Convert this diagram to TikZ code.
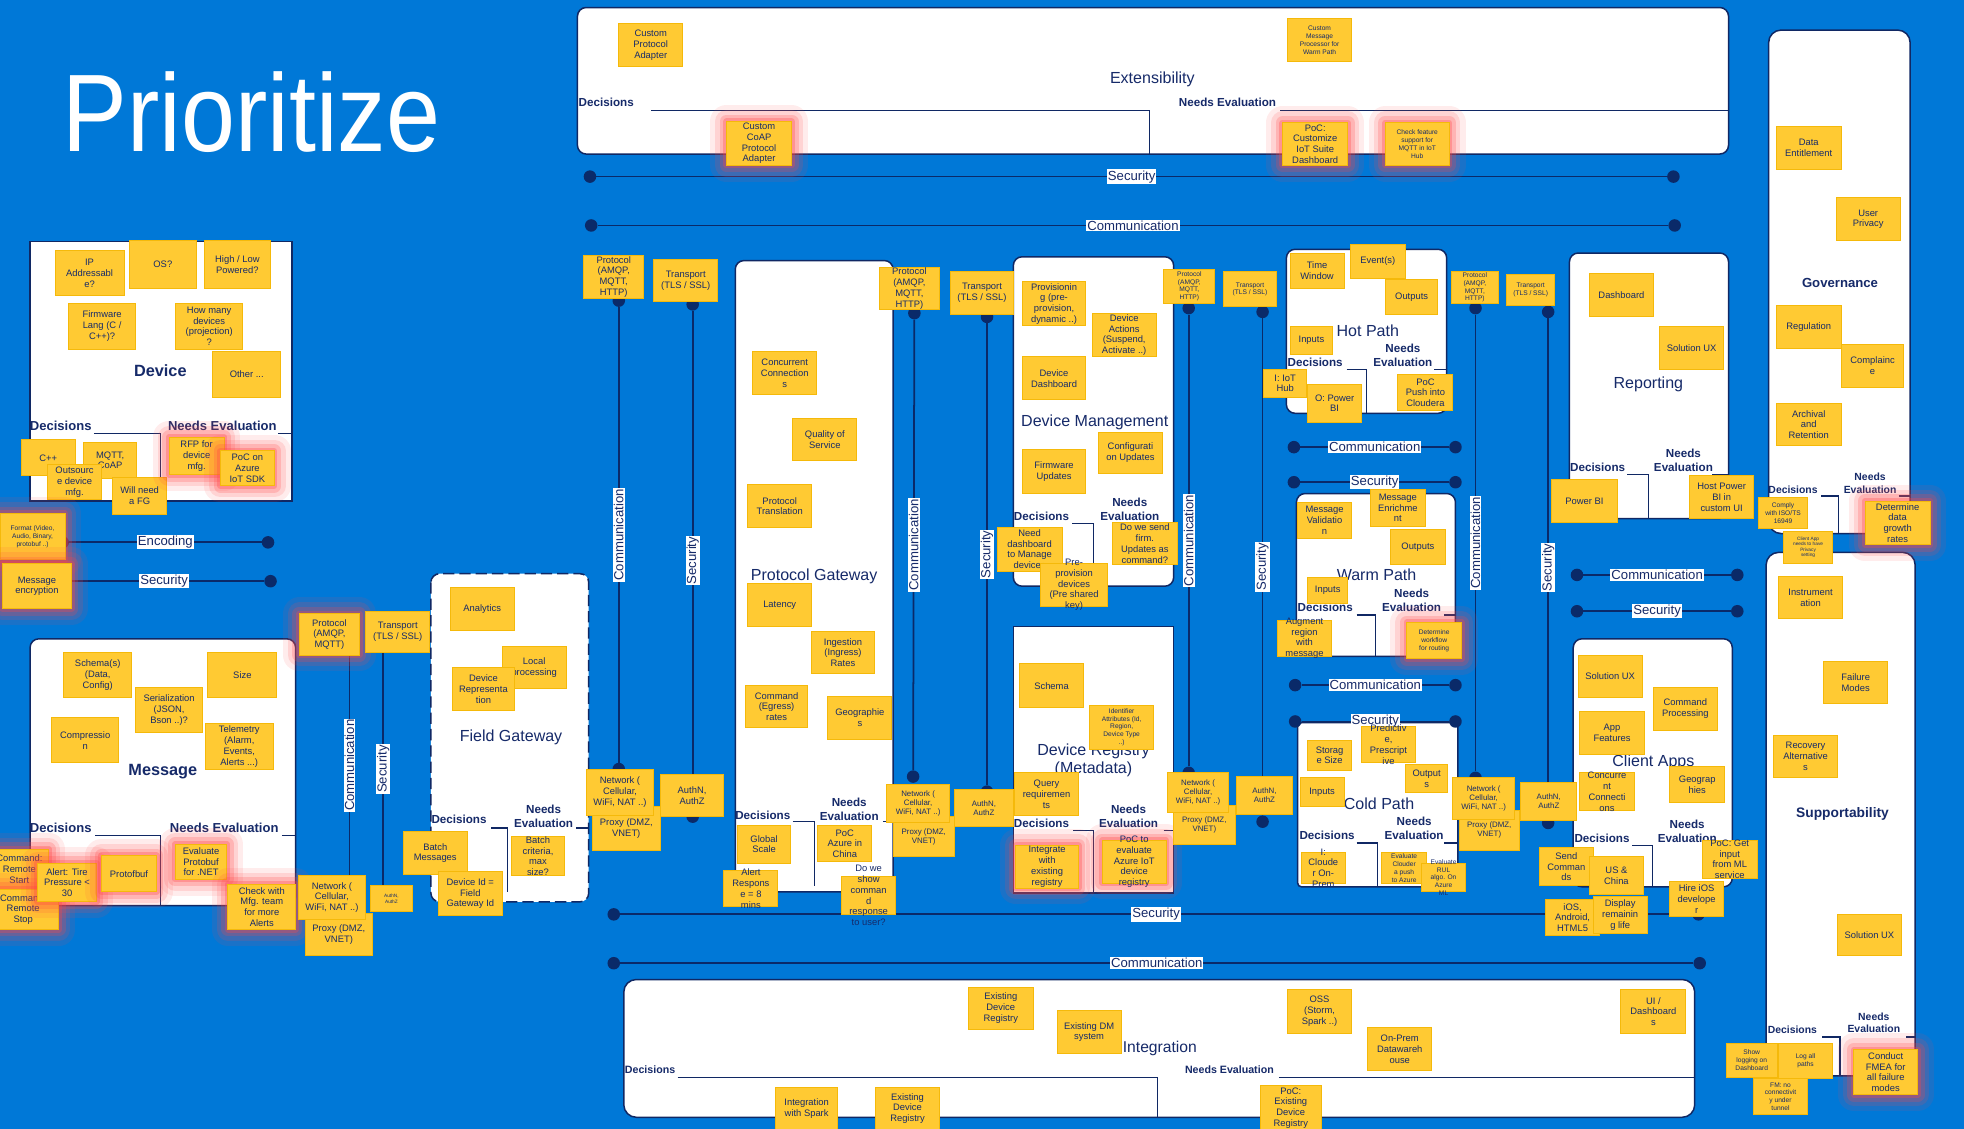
\documentclass[tikz,border=0pt]{standalone}
\usepackage{fontspec}
\setmainfont{Liberation Sans}
\definecolor{sky}{RGB}{0,120,215}
\definecolor{ink}{RGB}{22,42,105}
\definecolor{edge}{RGB}{16,40,100}
\definecolor{notefill}{RGB}{255,202,51}
\definecolor{noteedge}{RGB}{245,185,10}
\definecolor{glow}{RGB}{255,70,70}
\definecolor{wirec}{RGB}{10,42,105}
\tikzset{
  note/.style={draw=noteedge,fill=notefill,line width=0.8pt,text=ink,align=center,
    inner sep=0.5pt,minimum width=51pt,minimum height=34pt,font=\fontsize{7.5}{8.6}\selectfont},
  sz/.style 2 args={minimum width=#1pt,minimum height=#2pt},
  midnote/.style={font=\fontsize{6.3}{7.2}\selectfont},
  smallnote/.style={font=\fontsize{5.3}{6.2}\selectfont},
  tinynote/.style={font=\fontsize{3.8}{4.4}\selectfont},
  spill/.style={label={[text=ink,align=center,font=\fontsize{7.5}{8.6}\selectfont]center:{#1}}},
  smallspill/.style={label={[text=ink,align=center,font=\fontsize{5.3}{6.2}\selectfont]center:{#1}}},
  hot/.style={preaction={draw=glow,line width=26pt,draw opacity=0.1,line join=round},
    preaction={draw=glow,line width=18pt,draw opacity=0.15,line join=round},
    preaction={draw=glow,line width=11pt,draw opacity=0.22,line join=round},
    preaction={draw=glow,line width=5pt,draw opacity=0.3,line join=round}},
  box/.style={draw=edge,line width=1.2pt,fill=white,rounded corners=7pt},
  head/.style={text=ink,align=center,font=\fontsize{12.8}{14.5}\selectfont},
  dec/.style={text=ink,align=center,inner sep=0pt,font=\bfseries\fontsize{9.3}{11}\selectfont},
  bigdec/.style={font=\bfseries\fontsize{10.4}{12}\selectfont},
  lowdec/.style={font=\bfseries\fontsize{8.3}{10}\selectfont},
  split/.style={draw=edge,line width=1pt},
  wire/.style={draw=wirec,line width=1.4pt},
  dot/.style={circle,fill=wirec,minimum size=10pt,inner sep=0pt},
  tag/.style={fill=white,text=ink,inner sep=0.8pt,font=\fontsize{10.5}{12}\selectfont},
  vtag/.style={tag,rotate=90}
}
\begin{document}
\begin{tikzpicture}[x=1pt,y=-1pt]
\useasboundingbox (0,0) rectangle (1568,901);
\fill[sky] (0,0) rectangle (1568,901);
\node[anchor=base west,text=white,inner sep=0pt,xscale=0.88,font=\fontsize{88}{88}\selectfont] (ttl) at (50,121) {Prioritize};

% areas
\draw[box] (461,6) rectangle (1380,123);
\node[head] (extT) at (920,63) {Extensibility};
\node[dec] (extD) at (484,82) {Decisions};
\node[dec] (extN) at (980,82) {Needs Evaluation};
\draw[split] (520,88) -- (918,88) -- (918,123) (1022,88) -- (1380,88);

\draw[box,sharp corners] (24,193) rectangle (233,400);
\node[head,font=\bfseries\fontsize{13}{15}\selectfont] (devT) at (128,296) {Device};
\node[dec,bigdec] (devD) at (48.5,340) {Decisions};
\node[dec,bigdec] (devN) at (177.5,340) {Needs Evaluation};
\draw[split] (75,346) -- (128,346) -- (128,400) (222,346) -- (233,346);

\draw[box] (24,510) rectangle (236,723);
\node[head,font=\bfseries\fontsize{13}{15}\selectfont] (msgT) at (130,616) {Message};
\node[dec,bigdec] (msgD) at (48.5,661) {Decisions};
\node[dec,bigdec] (msgN) at (179,661) {Needs Evaluation};
\draw[split] (76,667) -- (128,667) -- (128,723) (225,667) -- (236,667);

\draw[box,dash pattern=on 9pt off 4pt] (344,458) rectangle (470,720);
\node[head] (fgwT) at (408,589) {Field Gateway};
\node[dec] (fgwD) at (366.5,654) {Decisions};
\node[dec] (fgwN) at (434,652) {Needs\\Evaluation};
\draw[split] (392,661) -- (405,661) -- (405,712) (460,661) -- (470,661);

\draw[box] (587,208) rectangle (713,712);
\node[head] (pgwT) at (650,460) {Protocol Gateway};
\node[dec] (pgwD) at (609,651) {Decisions};
\node[dec] (pgwN) at (678,646) {Needs\\Evaluation};
\draw[split] (633,656) -- (650,656) -- (650,707) (705,656) -- (713,656);

\draw[box] (809,205) rectangle (937,468);
\node[head] (dmT) at (874,337) {Device Management};
\node[dec] (dmD) at (831.5,412) {Decisions};
\node[dec] (dmN) at (902,406.5) {Needs\\Evaluation};
\draw[split] (856,418) -- (873,418) -- (873,468);

\draw[box,sharp corners] (809,500) rectangle (937,713);
\node[head] (drT) at (873,607) {Device Registry\\(Metadata)};
\node[dec] (drD) at (831.5,657) {Decisions};
\node[dec] (drN) at (901,651.5) {Needs\\Evaluation};
\draw[split] (857,663) -- (873,663) -- (873,713) (929,663) -- (937,663);

\draw[box] (1027,199) rectangle (1155,330);
\node[head] (hotT) at (1092,264) {Hot Path};
\node[dec] (hotD) at (1050,289) {Decisions};
\node[dec] (hotN) at (1120,283.5) {Needs\\Evaluation};
\draw[split] (1075,295) -- (1091,295) -- (1091,330) (1145,295) -- (1155,295);

\draw[box] (1035,394) rectangle (1162,524);
\node[head] (warmT) at (1099,459) {Warm Path};
\node[dec] (warmD) at (1058,485) {Decisions};
\node[dec] (warmN) at (1127,479.5) {Needs\\Evaluation};
\draw[split] (1083,491) -- (1098,491) -- (1098,524) (1153,491) -- (1162,491);

\draw[box,rounded corners=3pt] (1036,577) rectangle (1164,708);
\node[head] (coldT) at (1101,642) {Cold Path};
\node[dec] (coldD) at (1059.5,667) {Decisions};
\node[dec] (coldN) at (1129,661.5) {Needs\\Evaluation};
\draw[split] (1083,673) -- (1100,673) -- (1100,708) (1153,673) -- (1164,673);

\draw[box] (1253,202) rectangle (1380,414);
\node[head] (repT) at (1316,307) {Reporting};
\node[dec] (repD) at (1275.5,373) {Decisions};
\node[dec] (repN) at (1344,367.5) {Needs\\Evaluation};
\draw[split] (1299,379) -- (1316,379) -- (1316,414) (1367,379) -- (1380,379);

\draw[box] (1256,510) rectangle (1383,708);
\node[head] (appT) at (1320,609) {Client Apps};
\node[dec] (appD) at (1279,669) {Decisions};
\node[dec] (appN) at (1347,663.5) {Needs\\Evaluation};
\draw[split] (1303,675) -- (1319,675) -- (1319,708);

\draw[box,rounded corners=10pt] (1412,24) rectangle (1525,426);
\node[head,font=\bfseries\fontsize{10.5}{12}\selectfont] (govT) at (1469,226) {Governance};
\node[dec,lowdec] (govD) at (1431.5,391) {Decisions};
\node[dec,lowdec] (govN) at (1493,386) {Needs\\Evaluation};
\draw[split] (1454,396) -- (1468,396) -- (1468,426) (1516,396) -- (1525,396);

\draw[box,rounded corners=10pt] (1410,441) rectangle (1529,859);
\node[head,font=\bfseries\fontsize{11}{13}\selectfont] (supT) at (1471,650) {Supportability};
\node[dec,lowdec] (supD) at (1431,822) {Decisions};
\node[dec,lowdec] (supN) at (1496,816.5) {Needs\\Evaluation};
\draw[split] (1455,828) -- (1469,828) -- (1469,859) (1522,828) -- (1529,828);

\draw[box,rounded corners=10pt] (498,782) rectangle (1353,892);
\node[head,font=\fontsize{12.5}{14}\selectfont] (intT) at (926,837) {Integration};
\node[dec,font=\bfseries\fontsize{8.5}{10}\selectfont] (intD) at (519,854) {Decisions};
\node[dec,font=\bfseries\fontsize{8.5}{10}\selectfont] (intN) at (981.5,854) {Needs Evaluation};
\draw[split] (541,860) -- (924,860) -- (924,892) (1021,860) -- (1353,860);

% rails
\node[dot] (secL) at (471,141) {};
\node[dot] (secR) at (1336,141) {};
\draw[wire] (secL) -- node[tag] {Security} (secR);
\node[dot] (comL) at (472,180) {};
\node[dot] (comR) at (1337,180) {};
\draw[wire] (comL) -- node[tag] {Communication} (comR);

\node[dot] (encL) at (50,433) {};
\node[dot] (encR) at (214,433) {};
\draw[wire] (encL) -- node[tag] {Encoding} (encR);
\node[dot] (sclL) at (46,464) {};
\node[dot] (sclR) at (216,464) {};
\draw[wire] (sclL) -- node[tag] {Security} (sclR);

\coordinate (c0a) at (279,523);
\coordinate (c0b) at (279,699);
\draw[wire] (c0a) -- node[vtag] {Communication} (c0b);
\coordinate (s0a) at (306,521);
\coordinate (s0b) at (306,707);
\draw[wire] (s0a) -- node[vtag] {Security} (s0b);

\node[dot] (c1a) at (494,240) {};
\node[dot] (c1b) at (494,614) {};
\draw[wire] (c1a) -- node[vtag] {Communication} (c1b);
\node[dot] (s1a) at (553,243) {};
\node[dot] (s1b) at (553,652) {};
\draw[wire] (s1a) -- node[vtag] {Security} (s1b);

\node[dot] (c2a) at (730,250) {};
\node[dot] (c2b) at (729,620) {};
\draw[wire] (c2a) -- node[vtag] {Communication} (c2b);
\node[dot] (s2a) at (788,253) {};
\node[dot] (s2b) at (788,632) {};
\draw[wire] (s2a) -- node[vtag] {Security} (s2b);

\node[dot] (c3a) at (949,246) {};
\node[dot] (c3b) at (949,617) {};
\draw[wire] (c3a) -- node[vtag] {Communication} (c3b);
\node[dot] (s3a) at (1008,249) {};
\node[dot] (s3b) at (1008,656) {};
\draw[wire] (s3a) -- node[vtag] {Security} (s3b);

\node[dot] (c4a) at (1178,246) {};
\node[dot] (c4b) at (1178,621) {};
\draw[wire] (c4a) -- node[vtag] {Communication} (c4b);
\node[dot] (s4a) at (1236,249) {};
\node[dot] (s4b) at (1236,657) {};
\draw[wire] (s4a) -- node[vtag] {Security} (s4b);

\node[dot] (hcL) at (1033,357) {};
\node[dot] (hcR) at (1162,357) {};
\draw[wire] (hcL) -- node[tag] {Communication} (hcR);
\node[dot] (hsL) at (1033,385) {};
\node[dot] (hsR) at (1162,385) {};
\draw[wire] (hsL) -- node[tag] {Security} (hsR);
\node[dot] (wcL) at (1034,547) {};
\node[dot] (wcR) at (1162,547) {};
\draw[wire] (wcL) -- node[tag] {Communication} (wcR);
\node[dot] (wsL) at (1034,576) {};
\node[dot] (wsR) at (1162,576) {};
\draw[wire] (wsL) -- node[tag] {Security} (wsR);
\node[dot] (rcL) at (1259,459) {};
\node[dot] (rcR) at (1387,459) {};
\draw[wire] (rcL) -- node[tag] {Communication} (rcR);
\node[dot] (rsL) at (1259,488) {};
\node[dot] (rsR) at (1387,488) {};
\draw[wire] (rsL) -- node[tag] {Security} (rsR);

\node[dot] (bsL) at (490,730) {};
\node[dot] (bsR) at (1356,730) {};
\draw[wire] (bsL) -- node[tag] {Security} (bsR);
\node[dot] (bcL) at (490,769) {};
\node[dot] (bcR) at (1357,769) {};
\draw[wire] (bcL) -- node[tag] {Communication} (bcR);

% notes: extensibility
\node[note] (cpa) at (519.5,36) {Custom\\Protocol\\Adapter};
\node[note,hot,sz={52}{35}] (coap) at (606,114.5) {Custom\\CoAP\\Protocol\\Adapter};
\node[note,smallnote] (cmp) at (1053.5,32) {Custom\\Message\\Processor for\\Warm Path};
\node[note,hot,sz={52}{34}] (pocdash) at (1050,115) {PoC:\\Customize\\IoT Suite\\Dashboard};
\node[note,hot,smallnote] (chkmqtt) at (1131.5,115) {Check feature\\support for\\MQTT in IoT\\Hub};

% device
\node[note,sz={55}{36}] (ip) at (71.5,218) {IP\\Addressabl\\e?};
\node[note,sz={54}{38}] (os) at (130,211) {OS?};
\node[note,sz={53}{38}] (power) at (189.5,211) {High / Low\\Powered?};
\node[note,sz={53}{37}] (fwlang) at (81.5,260.5) {Firmware\\Lang (C /\\C++)?};
\node[note,sz={54}{37}] (howmany) at (167,260.5) {How many\\devices\\(projection)\\?};
\node[note,sz={54}{36}] (other) at (197,299) {Other ...};
\node[note,sz={43}{29}] (cpp) at (38.5,365.5) {C++};
\node[note,sz={42}{29}] (mqtt) at (88,367.5) {MQTT,\\CoAP};
\node[note,sz={43}{28}] (outsrc) at (59.5,385) {Outsourc\\e device\\mfg.};
\node[note,sz={43}{30}] (needfg) at (111.5,396) {Will need\\a FG};
\node[note,hot,sz={44}{30}] (rfp) at (157,364) {RFP for\\device\\mfg.};
\node[note,hot,sz={43}{28}] (pocsdk) at (197.5,374) {PoC on\\Azure\\IoT SDK};
\node[note,hot,smallnote,sz={52}{37}] (format) at (26,428.5) {Format (Video,\\Audio, Binary,\\protobuf ..)};
\node[note,hot,sz={55}{36}] (encrypt) at (29.5,468) {Message\\encryption};

% message
\node[note,sz={54}{36}] (schema) at (78,539) {Schema(s)\\(Data,\\Config)};
\node[note,sz={55}{36}] (size) at (193.5,539) {Size};
\node[note,sz={54}{36}] (serial) at (135,567) {Serialization\\(JSON,\\Bson ..)?};
\node[note,sz={54}{36}] (compr) at (68,591) {Compressio\\n};
\node[note,sz={54}{36}] (telem) at (191,596) {Telemetry\\(Alarm,\\Events,\\Alerts ...)};
\node[note,hot,sz={47}{32}] (cstart) at (15.5,694) {Command:\\Remote\\Start};
\node[note,hot,sz={57}{32}] (cstop) at (18.5,726) {Command:\\Remote\\Stop};
\node[note,hot,sz={47}{31}] (tire) at (53.5,704.5) {Alert: Tire\\Pressure <\\30};
\node[note,hot,sz={44}{29}] (protobuf) at (103,697.5) {Protofbuf};
\node[note,hot,sz={41}{28}] (evalpb) at (160.5,688) {Evaluate\\Protobuf\\for .NET};
\node[note,hot,sz={54}{36}] (chkmfg) at (209,724) {Check with\\Mfg. team\\for more\\Alerts};

% field side pair
\node[note,hot,sz={48}{33}] (prot0) at (263,506.5) {Protocol\\(AMQP,\\MQTT)};
\node[note,sz={51}{33}] (trans0) at (317.5,504.5) {Transport\\(TLS / SSL)};
\node[note,sz={53}{34}] (proxy0) at (270.5,746) {Proxy (DMZ,\\VNET)};
\node[note,sz={54}{35}] (net0) at (265,716.5) {Network (\\Cellular,\\WiFi, NAT ..)};
\node[note,tinynote,sz={33}{21}] (auth0) at (312.5,717.5) {AuthN,\\AuthZ};

% field gateway
\node[note] (analytics) at (385,486) {Analytics};
\node[note] (localp) at (426.5,533) {Local\\processing};
\node[note,sz={50}{34}] (devrep) at (386,550) {Device\\Representa\\tion};
\node[note] (batch) at (347.5,681) {Batch\\Messages};
\node[note,sz={43}{31},spill={Batch\\criteria,\\max\\size?}] (batchc) at (429.5,683.5) {};
\node[note,sz={51}{35}] (devid) at (375.5,713.5) {Device Id =\\Field\\Gateway Id};

% first pair
\node[note,sz={48}{34}] (prot1) at (490,221) {Protocol\\(AMQP,\\MQTT,\\HTTP)};
\node[note] (trans1) at (547.5,224) {Transport\\(TLS / SSL)};
\node[note,sz={54}{35}] (proxy1) at (500,661.5) {Proxy (DMZ,\\VNET)};
\node[note,sz={54}{37}] (net1) at (495,632.5) {Network (\\Cellular,\\WiFi, NAT ..)};
\node[note] (auth1) at (552.5,635) {AuthN,\\AuthZ};

% protocol gateway
\node[note] (concur) at (626.5,298) {Concurrent\\Connection\\s};
\node[note] (qos) at (658.5,351) {Quality of\\Service};
\node[note] (ptrans) at (622.5,404) {Protocol\\Translation};
\node[note] (latency) at (622.5,483) {Latency};
\node[note,sz={50}{34}] (ingest) at (673,521) {Ingestion\\(Ingress)\\Rates};
\node[note,sz={50}{34}] (egress) at (620,564) {Command\\(Egress)\\rates};
\node[note] (geo1) at (686.5,573) {Geographie\\s};
\node[note,sz={42}{30}] (gscale) at (610,674) {Global\\Scale};
\node[note,sz={43}{29}] (china) at (674.5,673.5) {PoC\\Azure in\\China};
\node[note,sz={43}{29},spill={Alert\\Respons\\e = 8\\mins}] (alertr) at (599.5,709.5) {};
\node[note,sz={43}{30},spill={Do we\\show\\comman\\d\\response\\to user?}] (showcmd) at (693.5,715) {};

% second pair
\node[note,sz={48}{33}] (prot2) at (726,230.5) {Protocol\\(AMQP,\\MQTT,\\HTTP)};
\node[note,sz={50}{34}] (trans2) at (784,234) {Transport\\(TLS / SSL)};
\node[note,midnote,sz={49}{32}] (proxy2) at (737.5,668) {Proxy (DMZ,\\VNET)};
\node[note,midnote,sz={50}{31}] (net2) at (733,641.5) {Network (\\Cellular,\\WiFi, NAT ..)};
\node[note,midnote,sz={47}{30}] (auth2) at (785.5,645) {AuthN,\\AuthZ};

% device management
\node[note,sz={51}{35}] (prov) at (841.5,242.5) {Provisionin\\g (pre-\\provision,\\dynamic ..)};
\node[note,sz={51}{35}] (dact) at (897.5,267.5) {Device\\Actions\\(Suspend,\\Activate ..)};
\node[note] (ddash) at (841.5,302) {Device\\Dashboard};
\node[note,sz={51}{33}] (confup) at (902.5,361.5) {Configurati\\on Updates};
\node[note,sz={51}{35}] (fwup) at (841.5,376.5) {Firmware\\Updates};
\node[note,sz={52}{35}] (needdash) at (822,438.5) {Need\\dashboard\\to Manage\\devices};
\node[note,sz={53}{34},spill={Pre-\\provision\\devices\\(Pre shared\\key)}] (preprov) at (857.5,467) {};
\node[note,sz={52}{34}] (firmcmd) at (914,434) {Do we send\\firm.\\Updates as\\command?};

% device registry
\node[note,sz={51}{35}] (schema2) at (839.5,547.5) {Schema};
\node[note,smallnote,sz={51}{35}] (ident) at (895.5,580.5) {Identifier\\Attributes (Id,\\Region,\\Device Type\\..)};
\node[note] (query) at (835.5,634) {Query\\requiremen\\ts};
\node[note,hot,sz={50}{34}] (integ) at (836,692) {Integrate\\with\\existing\\registry};
\node[note,hot,spill={PoC to\\evaluate\\Azure IoT\\device\\registry}] (pocreg) at (905.5,688) {};

% third pair
\node[note,smallnote,sz={41}{27}] (prot3) at (949.5,228.5) {Protocol\\(AMQP,\\MQTT,\\HTTP)};
\node[note,smallnote,sz={42}{28}] (trans3) at (998,231) {Transport\\(TLS / SSL)};
\node[note,midnote,sz={49}{31}] (proxy3) at (961.5,658.5) {Proxy (DMZ,\\VNET)};
\node[note,midnote,sz={49}{32}] (net3) at (956.5,633) {Network (\\Cellular,\\WiFi, NAT ..)};
\node[note,midnote,sz={45}{30}] (auth3) at (1009.5,635) {AuthN,\\AuthZ};

% hot path
\node[note,sz={43}{28}] (twin) at (1051.5,216) {Time\\Window};
\node[note,sz={44}{27}] (events) at (1100,208.5) {Event(s)};
\node[note,sz={42}{28}] (hout) at (1127,237) {Outputs};
\node[note,sz={34}{22}] (hin) at (1047,272) {Inputs};
\node[note,sz={34}{22}] (iothub) at (1026,306) {I: IoT\\Hub};
\node[note,sz={43}{30}] (pbiout) at (1065.5,322) {O: Power\\BI};
\node[note,sz={44}{29}] (cloudera) at (1138,313.5) {PoC\\Push into\\Cloudera};

% warm path
\node[note,sz={43}{29}] (mval) at (1057.5,415.5) {Message\\Validatio\\n};
\node[note,sz={44}{29}] (menr) at (1116,405.5) {Message\\Enrichme\\nt};
\node[note,sz={44}{28}] (wout) at (1132,437) {Outputs};
\node[note,sz={32}{21}] (win) at (1060,471.5) {Inputs};
\node[note,sz={43}{29},spill={Augment\\region\\with\\message}] (augment) at (1041.5,509.5) {};
\node[note,hot,smallnote,sz={44}{29}] (wflow) at (1145,511.5) {Determine\\workflow\\for routing};

% cold path
\node[note,sz={35}{24}] (storage) at (1061.5,603) {Storag\\e Size};
\node[note,sz={43}{29},spill={Predictiv\\e,\\Prescript\\ive}] (predict) at (1108.5,594.5) {};
\node[note,sz={34}{23}] (cout) at (1139,621.5) {Output\\s};
\node[note,sz={35}{23}] (cin) at (1055.5,632.5) {Inputs};
\node[note,sz={35}{24},spill={I:\\Cloude\\r On-\\Prem}] (clouderain) at (1056.5,693) {};
\node[note,smallnote,sz={36}{24}] (evalcl) at (1121,693) {Evaluate\\Clouder\\a push\\to Azure};
\node[note,sz={35}{23},smallspill={Evaluate\\RUL\\algo. On\\Azure\\ML}] (evalrul) at (1152.5,700.5) {};

% fourth pair
\node[note,smallnote,sz={37}{25}] (prot4) at (1177.5,229.5) {Protocol\\(AMQP,\\MQTT,\\HTTP)};
\node[note,smallnote,sz={38}{25}] (trans4) at (1222,231.5) {Transport\\(TLS / SSL)};
\node[note,midnote,sz={48}{32}] (proxy4) at (1189,663) {Proxy (DMZ,\\VNET)};
\node[note,midnote,sz={49}{33}] (net4) at (1184.5,637.5) {Network (\\Cellular,\\WiFi, NAT ..)};
\node[note,midnote,sz={45}{30}] (auth4) at (1236.5,640) {AuthN,\\AuthZ};

% reporting
\node[note,sz={51}{35}] (dash) at (1294.5,235.5) {Dashboard};
\node[note] (repux) at (1350.5,278) {Solution UX};
\node[note,sz={52}{34}] (powerbi) at (1265,400) {Power BI};
\node[note] (hostpbi) at (1374.5,397) {Host Power\\BI in\\custom UI};

% client apps
\node[note] (appux) at (1285.5,540) {Solution UX};
\node[note] (cmdproc) at (1345.5,566) {Command\\Processing};
\node[note,sz={52}{34}] (appfeat) at (1287,585) {App\\Features};
\node[note,sz={44}{30},spill={Concurre\\nt\\Connecti\\ons}] (appconc) at (1283,632) {};
\node[note,sz={44}{29}] (appgeo) at (1355,626.5) {Geograp\\hies};
\node[note,sz={43}{30}] (sendcmd) at (1250.5,692) {Send\\Comman\\ds};
\node[note,sz={43}{30}] (uschina) at (1290.5,699) {US \&\\China};
\node[note,sz={44}{30},spill={PoC: Get\\input\\from ML\\service}] (mlsvc) at (1381,686) {};
\node[note,sz={43}{28}] (hireios) at (1354.5,718) {Hire iOS\\develope\\r};
\node[note,sz={43}{29}] (mobile) at (1255.5,732.5) {iOS,\\Android,\\HTML5};
\node[note,sz={43}{29}] (remlife) at (1293.5,730.5) {Display\\remainin\\g life};

% integration
\node[note,sz={52}{34}] (exreg1) at (799,805) {Existing\\Device\\Registry};
\node[note] (exdm) at (869.5,824) {Existing DM\\system};
\node[note,sz={51}{35}] (oss) at (1053.5,807.5) {OSS\\(Storm,\\Spark ..)};
\node[note,sz={51}{35}] (dwh) at (1117.5,837.5) {On-Prem\\Datawareh\\ouse};
\node[note,sz={52}{35}] (uidash) at (1320,807.5) {UI /\\Dashboard\\s};
\node[note,sz={50}{34}] (spark) at (644,885) {Integration\\with Spark};
\node[note] (exreg2) at (724.5,885) {Existing\\Device\\Registry};
\node[note,sz={49}{35}] (pocreg2) at (1030.5,884.5) {PoC:\\Existing\\Device\\Registry};

% governance
\node[note,sz={52}{34}] (entitle) at (1444,118) {Data\\Entitlement};
\node[note] (privacy) at (1491.5,175) {User\\Privacy};
\node[note,sz={52}{34}] (regul) at (1444,261) {Regulation};
\node[note,sz={50}{34}] (compl) at (1495,292) {Complainc\\e};
\node[note,sz={52}{34}] (archive) at (1444,339) {Archival\\and\\Retention};
\node[note,smallnote,sz={39}{25}] (iso) at (1423.5,409.5) {Comply\\with ISO/TS\\16949};
\node[note,tinynote,sz={39}{26}] (privset) at (1443.5,437) {Client App\\needs to have\\Privacy\\setting};
\node[note,hot,sz={52}{35}] (growth) at (1515,417.5) {Determine\\data\\growth\\rates};

% supportability
\node[note] (instr) at (1445.5,477) {Instrument\\ation};
\node[note] (fmodes) at (1481.5,545) {Failure\\Modes};
\node[note] (recov) at (1441.5,604) {Recovery\\Alternative\\s};
\node[note,sz={51}{33}] (supux) at (1492.5,746.5) {Solution UX};
\node[note,smallnote,sz={41}{27}] (showlog) at (1398.5,846.5) {Show\\logging on\\Dashboard};
\node[note,smallnote,sz={43}{28}] (logall) at (1441.5,847) {Log all\\paths};
\node[note,smallnote,sz={43}{29}] (fmno) at (1421.5,875.5) {FM: no\\connectivit\\y under\\tunnel};
\node[note,hot,sz={51}{36}] (fmea) at (1505.5,856) {Conduct\\FMEA for\\all failure\\modes};
\end{tikzpicture}
\end{document}
